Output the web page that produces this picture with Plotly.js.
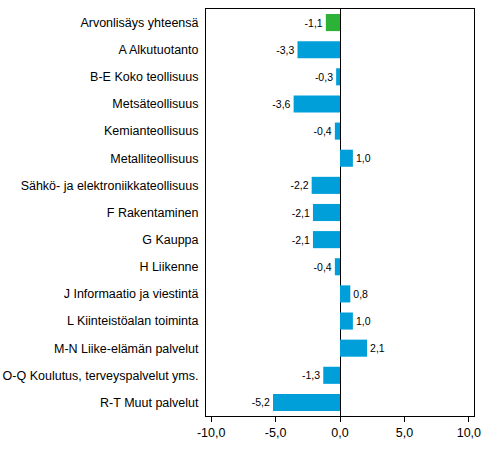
<!DOCTYPE html>
<html>
<head>
<meta charset="utf-8">
<script src="https://cdn.plot.ly/plotly-3.0.1.min.js"></script>
<style>
  html, body { margin: 0; padding: 0; background: #fff; }
  #chart { width: 491px; height: 453px; }
</style>
</head>
<body>
<div id="chart"></div>
<script>
// categories top to bottom
const categories = [
  'Arvonlisäys yhteensä',
  'A Alkutuotanto',
  'B-E Koko teollisuus',
  'Metsäteollisuus',
  'Kemianteollisuus',
  'Metalliteollisuus',
  'Sähkö- ja elektroniikkateollisuus',
  'F Rakentaminen',
  'G Kauppa',
  'H Liikenne',
  'J Informaatio ja viestintä',
  'L Kiinteistöalan toiminta',
  'M-N Liike-elämän palvelut',
  'O-Q Koulutus, terveyspalvelut yms.',
  'R-T Muut palvelut'
];
const values = [-1.1, -3.3, -0.3, -3.6, -0.4, 1.0, -2.2, -2.1, -2.1, -0.4, 0.8, 1.0, 2.1, -1.3, -5.2];
const tickVals = [-10, -5, 0, 5, 10];
const tickText = ['-10,0', '-5,0', '0,0', '5,0', '10,0'];

const fmt = v => v.toFixed(1).replace('.', ',');
const colors = values.map((v, i) => i === 0 ? '#2db238' : '#009fda');

const trace = {
  type: 'bar',
  orientation: 'h',
  x: values,
  y: categories,
  marker: { color: colors },
  width: 0.63,
  text: values.map(fmt),
  textposition: 'outside',
  cliponaxis: false,
  textfont: { family: 'Liberation Sans, Arial, sans-serif', size: 10.5, color: '#000' },
  hoverinfo: 'none'
};

const layout = {
  width: 491,
  height: 453,
  margin: { l: 206, r: 17, t: 9, b: 37 },
  paper_bgcolor: '#fff',
  plot_bgcolor: '#fff',
  showlegend: false,
  font: { family: 'Liberation Sans, Arial, sans-serif', size: 12, color: '#000' },
  xaxis: {
    range: [-10.4, 10.4],
    tickvals: tickVals,
    ticktext: tickText,
    ticks: 'outside',
    ticklen: 5,
    tickcolor: '#000',
    showgrid: false,
    zeroline: true,
    zerolinecolor: '#000',
    zerolinewidth: 1,
    showline: true,
    linecolor: '#000',
    linewidth: 1,
    mirror: true,
    tickfont: { size: 12.5 },
    fixedrange: true
  },
  yaxis: {
    autorange: 'reversed',
    showgrid: false,
    showline: true,
    linecolor: '#000',
    linewidth: 1,
    mirror: true,
    ticks: '',
    ticklabelstandoff: 4,
    tickfont: { size: 12.5 },
    fixedrange: true
  },
  bargap: 0.37
};

Plotly.newPlot('chart', [trace], layout, { displayModeBar: false, staticPlot: true });
</script>
</body>
</html>
